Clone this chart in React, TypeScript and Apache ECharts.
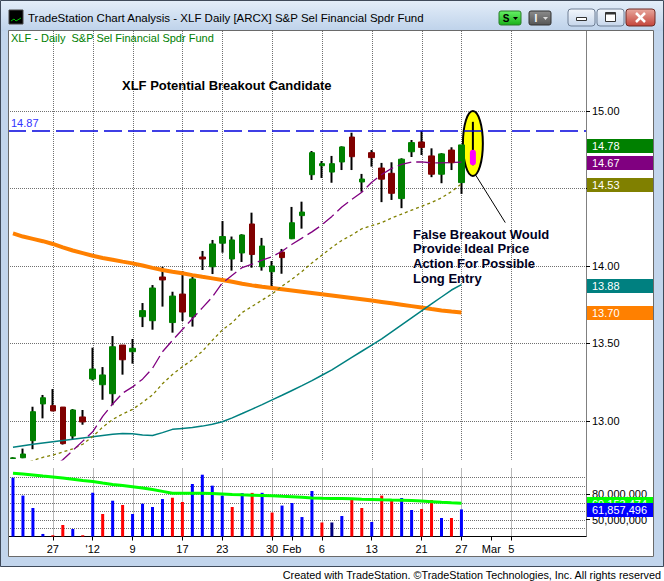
import React, { useEffect, useRef } from "react";
import * as echarts from "echarts";

const FONT = '"Liberation Sans", Arial, sans-serif';

// ---- categories (trading days) ----
const dates = [
  "2011-12-20", "2011-12-21", "2011-12-22", "2011-12-23", "2011-12-27", "2011-12-28", "2011-12-29", "2011-12-30",
  "2012-01-03", "2012-01-04", "2012-01-05", "2012-01-06", "2012-01-09", "2012-01-10", "2012-01-11", "2012-01-12",
  "2012-01-13", "2012-01-17", "2012-01-18", "2012-01-19", "2012-01-20", "2012-01-23", "2012-01-24", "2012-01-25",
  "2012-01-26", "2012-01-27", "2012-01-30", "2012-01-31", "2012-02-01", "2012-02-02", "2012-02-03", "2012-02-06",
  "2012-02-07", "2012-02-08", "2012-02-09", "2012-02-10", "2012-02-13", "2012-02-14", "2012-02-15", "2012-02-16",
  "2012-02-17", "2012-02-21", "2012-02-22", "2012-02-23", "2012-02-24", "2012-02-27", "2012-02-28", "2012-02-29",
  "2012-03-01", "2012-03-02", "2012-03-05", "2012-03-06", "2012-03-07", "2012-03-08", "2012-03-09", "2012-03-12",
  "2012-03-13", "2012-03-14",
];

// ---- x tick labels ----
const tickDates = [
  "2011-12-27", "2012-01-03", "2012-01-09", "2012-01-17", "2012-01-23", "2012-01-30", "2012-02-01",
  "2012-02-06", "2012-02-13", "2012-02-21", "2012-02-27", "2012-03-01", "2012-03-05",
];
const tickTexts = ["27", "'12", "9", "17", "23", "30", "Feb", "6", "13", "21", "27", "Mar", "5"];
const monthTickDates = ["2012-02-01", "2012-03-01"];

// ---- OHLC ----
const openPrices = [12.758, 12.763, 12.873, 13.110, 13.099, 13.090, 12.903, 13.026, 13.271, 13.234, 13.176, 13.490, 13.447, 13.673, 13.647, 13.929, 13.635, 13.819, 13.673, 14.058, 13.995, 14.147, 14.045, 14.084, 14.271, 13.995, 13.963, 14.090, 14.176, 14.325, 14.589, 14.647, 14.606, 14.671, 14.832, 14.542, 14.731, 14.632, 14.598, 14.435, 14.737, 14.800, 14.710, 14.592, 14.748, 14.538];
const highPrices = [12.766, 12.822, 13.092, 13.168, 13.206, 13.090, 13.077, 13.071, 13.473, 13.348, 13.548, 13.490, 13.529, 13.761, 13.877, 13.995, 13.834, 13.968, 13.931, 14.097, 14.168, 14.290, 14.190, 14.205, 14.344, 14.181, 14.032, 14.110, 14.381, 14.415, 14.742, 14.677, 14.710, 14.772, 14.860, 14.594, 14.748, 14.665, 14.669, 14.695, 14.813, 14.870, 14.759, 14.728, 14.766, 14.781];
const lowPrices = [12.755, 12.76, 12.818, 13.017, 13.063, 12.848, 12.884, 12.976, 13.261, 13.137, 13.102, 13.299, 13.370, 13.606, 13.589, 13.738, 13.570, 13.645, 13.609, 13.974, 13.948, 14.086, 13.970, 14.026, 13.989, 13.970, 13.866, 13.950, 14.173, 14.241, 14.555, 14.568, 14.537, 14.619, 14.619, 14.479, 14.641, 14.412, 14.426, 14.373, 14.703, 14.716, 14.573, 14.534, 14.619, 14.465];
const closePrices = [12.762, 12.787, 13.060, 13.150, 13.065, 12.854, 13.071, 12.994, 13.335, 13.297, 13.479, 13.395, 13.469, 13.712, 13.858, 13.910, 13.806, 13.703, 13.916, 14.045, 14.142, 14.190, 14.168, 14.200, 14.074, 14.129, 14.000, 14.054, 14.279, 14.348, 14.731, 14.660, 14.660, 14.768, 14.705, 14.561, 14.699, 14.560, 14.469, 14.689, 14.796, 14.765, 14.592, 14.723, 14.666, 14.781];

// ---- moving averages ----
const ma10 = [12.53, 12.56, 12.60, 12.65, 12.70, 12.75, 12.81, 12.87, 12.93, 13.03, 13.11, 13.18, 13.22, 13.27, 13.34, 13.447, 13.52, 13.59, 13.66, 13.73, 13.80, 13.89, 13.94, 13.99, 14.012, 14.038, 14.06, 14.095, 14.14, 14.18, 14.22, 14.265, 14.32, 14.38, 14.43, 14.476, 14.54, 14.59, 14.63, 14.655, 14.67, 14.672, 14.665, 14.665, 14.667, 14.67];
const ma20 = [12.70, 12.72, 12.745, 12.766, 12.78, 12.80, 12.82, 12.85, 12.90, 12.96, 13.01, 13.045, 13.075, 13.12, 13.168, 13.24, 13.30, 13.35, 13.395, 13.45, 13.52, 13.587, 13.635, 13.70, 13.74, 13.78, 13.82, 13.87, 13.915, 13.965, 14.02, 14.07, 14.12, 14.165, 14.20, 14.24, 14.26, 14.28, 14.31, 14.335, 14.36, 14.385, 14.41, 14.44, 14.48, 14.53];
const ma50 = [12.83, 12.84, 12.85, 12.858, 12.866, 12.874, 12.882, 12.89, 12.898, 12.906, 12.914, 12.92, 12.918, 12.91, 12.907, 12.925, 12.946, 12.952, 12.958, 12.967, 12.979, 12.995, 13.02, 13.048, 13.077, 13.106, 13.136, 13.166, 13.197, 13.228, 13.26, 13.295, 13.33, 13.37, 13.41, 13.45, 13.49, 13.53, 13.575, 13.62, 13.665, 13.71, 13.755, 13.80, 13.845, 13.88];
const ma200 = [14.21, 14.19, 14.175, 14.16, 14.142, 14.12, 14.10, 14.083, 14.066, 14.052, 14.04, 14.028, 14.017, 14.003, 13.988, 13.974, 13.963, 13.953, 13.941, 13.93, 13.92, 13.91, 13.898, 13.885, 13.875, 13.866, 13.858, 13.85, 13.842, 13.834, 13.826, 13.818, 13.81, 13.802, 13.794, 13.786, 13.777, 13.768, 13.759, 13.75, 13.741, 13.732, 13.722, 13.713, 13.706, 13.70];

// ---- volume ----
const volumes = [99200000, 78100000, 63500000, 33000000, 31500000, 43500000, 38800000, 31500000, 81500000, 56500000, 72100000, 67100000, 56500000, 68600000, 64700000, 74100000, 75600000, 70600000, 91800000, 102700000, 89800000, 78100000, 64700000, 81000000, 81300000, 81400000, 58200000, 66400000, 69400000, 52900000, 83500000, 46500000, 46500000, 54100000, 75300000, 63500000, 47100000, 78100000, 74100000, 75300000, 61200000, 62400000, 72900000, 51800000, 51800000, 61857496];
const volumeAvg = [104400000, 103400000, 102400000, 101200000, 100100000, 98800000, 97400000, 95900000, 94600000, 92900000, 91300000, 90000000, 88600000, 87000000, 85300000, 83100000, 80800000, 80800000, 80800000, 80800000, 80600000, 80100000, 79500000, 79000000, 78600000, 78200000, 77800000, 77300000, 76900000, 76200000, 75300000, 74900000, 74800000, 74600000, 74300000, 73900000, 73600000, 73100000, 72800000, 72600000, 72300000, 71800000, 71000000, 70200000, 69600000, 69153474];

// ---- axes ----
const priceTicks = [13.0, 13.5, 14.0, 14.5, 15.0];
const volumeTicks = [50000000, 80000000];
const volumeGridValues = [40000000, 50000000, 60000000, 70000000, 80000000, 90000000, 100000000];
const resistanceLevel = 14.87;

// ---- annotation: hypothetical false breakout bar ----
const annoDate = "2012-02-28";
const annoEllipse = [15.0, 14.58];
const annoBar = [14.93, 14.65, 14.75]; // high, low, body top
const annoCalloutDate = "2012-03-02";
const annoCalloutPrice = 14.28;

const labelMap: Record<string, string> = {};
tickDates.forEach((d, i) => (labelMap[d] = tickTexts[i]));
const gridDateIdx = tickDates.filter((d) => monthTickDates.indexOf(d) < 0).map((d) => dates.indexOf(d));

function volColor(i: number) {
  const prev = i === 0 ? openPrices[0] : closePrices[i - 1];
  if (closePrices[i] > prev) return "#0000ff";
  if (closePrices[i] < prev) return "#ff0000";
  return "#000080";
}

// custom series that draws dotted grid lines through the axes' scales
function gridSeries(xAxisIndex: number, yAxisIndex: number, yValues: number[]) {
  return {
    type: "custom", name: "grid" + xAxisIndex, xAxisIndex, yAxisIndex, silent: true,
    data: [[0, yValues[0]]],
    renderItem: (params: any, api: any) => {
      const cs = params.coordSys;
      const children: any[] = [];
      const style = { stroke: "#707070", lineWidth: 1, lineDash: [1, 1] };
      gridDateIdx.forEach((xi) => {
        const x = Math.round(api.coord([xi, yValues[0]])[0]) + 0.5;
        children.push({ type: "line", shape: { x1: x, y1: cs.y, x2: x, y2: cs.y + cs.height }, style });
      });
      yValues.forEach((v) => {
        const y = Math.round(api.coord([0, v])[1]) + 0.5;
        children.push({ type: "line", shape: { x1: cs.x, y1: y, x2: cs.x + cs.width, y2: y }, style });
      });
      return { type: "group", children };
    },
  };
}

function buildOption(): any {
  const isTick = (_i: number, v: string) => !!labelMap[v];
  return {
    animation: false,
    backgroundColor: "#ffffff",
    grid: [
      { left: 8, right: 78, top: 31, height: 428.75 },
      { left: 8, right: 78, top: 468.5, height: 68 },
    ],
    xAxis: [
      {
        type: "category", gridIndex: 0, data: dates, boundaryGap: true,
        axisLine: { show: false }, axisTick: { show: false }, axisLabel: { show: false }, splitLine: { show: false },
      },
      {
        type: "category", gridIndex: 1, data: dates, boundaryGap: true,
        axisLine: { show: true, onZero: false, lineStyle: { color: "#000", width: 1 } },
        axisTick: { show: true, alignWithLabel: true, interval: isTick, length: 4, lineStyle: { color: "#000" } },
        axisLabel: {
          show: true, interval: isTick, formatter: (v: string) => labelMap[v] || "",
          color: "#000", fontSize: 11, fontFamily: FONT, margin: 7,
        },
        splitLine: { show: false },
      },
    ],
    yAxis: [
      {
        type: "value", gridIndex: 0, position: "right", min: 12.75, max: 15.516,
        axisLine: { show: true, lineStyle: { color: "#808080" } },
        axisTick: { show: true, customValues: priceTicks, length: 4, lineStyle: { color: "#000" } },
        axisLabel: {
          customValues: priceTicks, formatter: (v: number) => v.toFixed(2),
          color: "#000", fontSize: 11, fontFamily: FONT, margin: 6,
        },
        splitLine: { show: false },
      },
      {
        type: "value", gridIndex: 1, position: "right", min: 30000000, max: 110000000,
        axisLine: { show: true, lineStyle: { color: "#808080" } },
        axisTick: { show: true, customValues: volumeTicks, length: 4, lineStyle: { color: "#000" } },
        axisLabel: {
          customValues: volumeTicks, formatter: (v: number) => Math.round(v).toLocaleString("en-US"),
          color: "#000", fontSize: 11, fontFamily: FONT, margin: 6,
        },
        splitLine: { show: false },
      },
    ],
    series: [
      gridSeries(0, 0, priceTicks),
      gridSeries(1, 1, volumeGridValues),
      { type: "line", name: "MA200", xAxisIndex: 0, yAxisIndex: 0, data: ma200, showSymbol: false, symbol: "none", lineStyle: { color: "#ff8000", width: 4 } },
      { type: "line", name: "MA50", data: ma50, showSymbol: false, symbol: "none", lineStyle: { color: "#008080", width: 1.5 } },
      { type: "line", name: "MA20", data: ma20, showSymbol: false, symbol: "none", lineStyle: { color: "#808000", width: 1.3, type: [3, 3] } },
      { type: "line", name: "MA10", data: ma10, showSymbol: false, symbol: "none", lineStyle: { color: "#800080", width: 1.3, type: [14, 5] } },
      {
        type: "custom", name: "annotation", xAxisIndex: 0, yAxisIndex: 0,
        data: [[dates.indexOf(annoDate), annoEllipse[0], annoEllipse[1], annoBar[0], annoBar[1], annoBar[2], dates.indexOf(annoCalloutDate), annoCalloutPrice]],
        renderItem: (_p: any, api: any) => {
          const xi = api.value(0);
          const top = api.coord([xi, api.value(1)]);
          const bot = api.coord([xi, api.value(2)]);
          const hi = api.coord([xi, api.value(3)]);
          const lo = api.coord([xi, api.value(4)]);
          const bt = api.coord([xi, api.value(5)]);
          const co = api.coord([api.value(6), api.value(7)]);
          const bw = api.size([1, 0])[0];
          const cx = top[0] + 0.15 * bw, cy = (top[1] + bot[1]) / 2, rx = bw, ry = (bot[1] - top[1]) / 2;
          const a = 1.3;
          const sx = cx + rx * Math.cos(a), sy = cy + ry * Math.sin(a);
          return {
            type: "group",
            children: [
              { type: "ellipse", shape: { cx, cy, rx, ry }, style: { fill: "#ffff00", stroke: "#000", lineWidth: 2 } },
              { type: "line", shape: { x1: cx, y1: hi[1], x2: cx, y2: lo[1] }, style: { stroke: "#000", lineWidth: 2 } },
              { type: "rect", shape: { x: cx - 3, y: bt[1], width: 6, height: lo[1] - bt[1], r: 3 }, style: { fill: "#ff00ff" } },
              { type: "line", shape: { x1: sx, y1: sy, x2: co[0] + 0.4 * bw, y2: co[1] }, style: { stroke: "#000", lineWidth: 1 } },
            ],
          };
        },
      },
      {
        type: "candlestick", name: "wicks", barWidth: 1,
        data: openPrices.map((o, i) => [o, closePrices[i], lowPrices[i], highPrices[i]]),
        itemStyle: { color: "#000", color0: "#000", borderColor: "#000", borderColor0: "#000", borderWidth: 2 },
        markLine: {
          symbol: "none", silent: true, z: 6,
          lineStyle: { color: "#0000dd", width: 1.5, type: [18, 6] },
          label: {
            show: true, position: "insideStartTop", formatter: resistanceLevel.toFixed(2),
            color: "#3333ff", fontSize: 11, fontFamily: FONT, distance: [3, 3],
          },
          data: [{ yAxis: resistanceLevel }],
        },
      },
      {
        type: "candlestick", name: "bodies", barWidth: 6,
        data: openPrices.map((o, i) => [o, closePrices[i], Math.min(o, closePrices[i]), Math.max(o, closePrices[i])]),
        itemStyle: { color: "#008000", color0: "#800000", borderColor: "#008000", borderColor0: "#800000", borderWidth: 1 },
      },
      {
        type: "bar", name: "Volume", xAxisIndex: 1, yAxisIndex: 1, barWidth: 3,
        data: volumes.map((v, i) => ({ value: v, itemStyle: { color: volColor(i) } })),
      },
      {
        type: "line", name: "VolAvg", xAxisIndex: 1, yAxisIndex: 1, data: volumeAvg, showSymbol: false, symbol: "none",
        lineStyle: { color: "#00ff00", width: 3 }, z: 7,
      },
    ],
  };
}

function buildGraphics(yP: (v: number) => number, yV: (v: number) => number): any[] {
  const g: any[] = [];
  const frame = "#c2d5ec";
  const grad = (c1: string, c2: string) => ({ type: "linear", x: 0, y: 0, x2: 0, y2: 1, colorStops: [{ offset: 0, color: c1 }, { offset: 1, color: c2 }] });
  // window frame
  g.push({ type: "rect", shape: { x: 0, y: 0, width: 664, height: 31 }, style: { fill: grad("#e4eef9", "#bed2ea") }, z: 100 });
  g.push({ type: "rect", shape: { x: 0, y: 31, width: 8, height: 536 }, style: { fill: frame }, z: 100 });
  g.push({ type: "rect", shape: { x: 654, y: 31, width: 10, height: 536 }, style: { fill: frame }, z: 100 });
  g.push({ type: "rect", shape: { x: 0, y: 557, width: 664, height: 10 }, style: { fill: frame }, z: 100 });
  g.push({ type: "rect", shape: { x: 0.5, y: 0.5, width: 663, height: 566 }, style: { fill: null, stroke: "#3f4a5a", lineWidth: 1 }, z: 101 });
  g.push({ type: "rect", shape: { x: 8.5, y: 30.5, width: 645, height: 526 }, style: { fill: null, stroke: "#6a6a6a", lineWidth: 1 }, z: 101 });
  g.push({ type: "rect", shape: { x: 0, y: 567, width: 664, height: 14 }, style: { fill: "#ffffff" }, z: 100 });
  // gap between panels on the right axis
  g.push({ type: "line", shape: { x1: 586.5, y1: 459, x2: 586.5, y2: 469 }, style: { stroke: "#808080", lineWidth: 1 }, z: 5 });
  // icon + title
  g.push({ type: "rect", shape: { x: 9, y: 10, width: 14, height: 14 }, style: { fill: "#000", stroke: "#444" }, z: 102 });
  g.push({ type: "polyline", shape: { points: [[11, 21], [14, 19], [16, 21], [21, 18]] }, style: { stroke: "#00c000", lineWidth: 1, fill: null }, z: 103 });
  g.push({
    type: "text", x: 28, y: 17.5, z: 102,
    style: { text: "TradeStation Chart Analysis - XLF Daily [ARCX] S&P Sel Financial Spdr Fund", fill: "#000", fontSize: 11.5, fontFamily: FONT, verticalAlign: "middle" },
  });
  // S button
  g.push({ type: "rect", shape: { x: 499, y: 11, width: 22, height: 14, r: 2 }, style: { fill: grad("#66f266", "#19b019"), stroke: "#2a7a2a" }, z: 102 });
  g.push({ type: "text", x: 506, y: 18.5, z: 103, style: { text: "S", fill: "#000", fontSize: 10, fontWeight: "bold", fontFamily: FONT, align: "center", verticalAlign: "middle" } });
  g.push({ type: "polygon", shape: { points: [[513, 17], [518, 17], [515.5, 20]] }, style: { fill: "#000" }, z: 103 });
  // I button
  g.push({ type: "rect", shape: { x: 529, y: 11, width: 22, height: 14, r: 2 }, style: { fill: grad("#8c8c8c", "#555555"), stroke: "#333" }, z: 102 });
  g.push({ type: "text", x: 536, y: 18.5, z: 103, style: { text: "I", fill: "#fff", fontSize: 10, fontWeight: "bold", fontFamily: FONT, align: "center", verticalAlign: "middle" } });
  g.push({ type: "polygon", shape: { points: [[543, 17], [548, 17], [545.5, 20]] }, style: { fill: "#ddd" }, z: 103 });
  // min / max / close
  g.push({ type: "rect", shape: { x: 568, y: 9, width: 27, height: 17, r: 3 }, style: { fill: grad("#f3f7fc", "#c6d6eb"), stroke: "#6f7f95" }, z: 102 });
  g.push({ type: "rect", shape: { x: 576.5, y: 17.5, width: 10, height: 3 }, style: { fill: "#fff", stroke: "#333", lineWidth: 1 }, z: 103 });
  g.push({ type: "rect", shape: { x: 597, y: 9, width: 27, height: 17, r: 3 }, style: { fill: grad("#f3f7fc", "#c6d6eb"), stroke: "#6f7f95" }, z: 102 });
  g.push({ type: "rect", shape: { x: 605.5, y: 12.5, width: 10, height: 9 }, style: { fill: "#fff", stroke: "#333", lineWidth: 1 }, z: 103 });
  g.push({ type: "rect", shape: { x: 605.5, y: 12.5, width: 10, height: 2 }, style: { fill: "#333" }, z: 104 });
  g.push({ type: "rect", shape: { x: 626, y: 9, width: 29, height: 17, r: 3 }, style: { fill: grad("#e8a89e", "#c4443a"), stroke: "#6e2b24" }, z: 102 });
  g.push({ type: "line", shape: { x1: 636, y1: 13, x2: 645, y2: 22 }, style: { stroke: "#fff", lineWidth: 2.5 }, z: 103 });
  g.push({ type: "line", shape: { x1: 645, y1: 13, x2: 636, y2: 22 }, style: { stroke: "#fff", lineWidth: 2.5 }, z: 103 });
  // chart header
  g.push({ type: "text", x: 11, y: 38, z: 50, style: { text: "XLF - Daily  S&P Sel Financial Spdr Fund", fill: "#008000", fontSize: 11, fontFamily: FONT, verticalAlign: "middle" } });
  // annotations
  g.push({ type: "text", x: 122, y: 85, z: 50, style: { text: "XLF Potential Breakout Candidate", fill: "#000", fontSize: 13, fontWeight: "bold", fontFamily: FONT, verticalAlign: "middle" } });
  ["False Breakout Would", "Provide Ideal Price", "Action For Possible", "Long Entry"].forEach((t, i) => {
    g.push({ type: "text", x: 413, y: 234 + i * 14.7, z: 50, style: { text: t, fill: "#000022", fontSize: 13, fontWeight: "bold", fontFamily: FONT, verticalAlign: "middle" } });
  });
  // credit
  g.push({ type: "text", x: 661, y: 574.5, z: 102, style: { text: "Created with TradeStation. \u00A9TradeStation Technologies, Inc. All rights reserved", fill: "#000", fontSize: 10.8, fontFamily: FONT, align: "right", verticalAlign: "middle" } });
  // value tags on the right axis
  const last = closePrices.length - 1;
  const tag = (y: number, fill: string, text: string, z: number) => {
    g.push({ type: "rect", shape: { x: 587, y: Math.round(y) - 6, width: 67, height: 14 }, style: { fill }, z });
    g.push({ type: "text", x: 592, y: Math.round(y) + 1, z: z + 1, style: { text, fill: "#fff", fontSize: 11, fontFamily: FONT, verticalAlign: "middle" } });
  };
  tag(yP(ma200[last]), "#ff8000", ma200[last].toFixed(2), 60);
  tag(yP(ma50[last]), "#008080", ma50[last].toFixed(2), 62);
  tag(yP(ma20[last]), "#808000", ma20[last].toFixed(2), 64);
  tag(yP(ma10[last]), "#800080", ma10[last].toFixed(2), 66);
  tag(yP(closePrices[last]), "#008000", closePrices[last].toFixed(2), 68);
  tag(yV(volumeAvg[last]), "#00ff00", Math.round(volumeAvg[last]).toLocaleString("en-US"), 70);
  tag(yV(volumes[last]), "#0000ff", Math.round(volumes[last]).toLocaleString("en-US"), 72);
  return g;
}

export default function App() {
  const ref = useRef<HTMLDivElement>(null);
  useEffect(() => {
    document.body.style.margin = "0";
    const chart = echarts.init(ref.current!, null, { renderer: "svg" });
    chart.setOption(buildOption());
    const yP = (v: number) => chart.convertToPixel({ yAxisIndex: 0 } as any, v) as unknown as number;
    const yV = (v: number) => chart.convertToPixel({ yAxisIndex: 1 } as any, v) as unknown as number;
    chart.setOption({ graphic: buildGraphics(yP, yV) });
    return () => chart.dispose();
  }, []);
  return <div ref={ref} style={{ position: "absolute", left: 0, top: 0, width: 664, height: 581 }} />;
}
